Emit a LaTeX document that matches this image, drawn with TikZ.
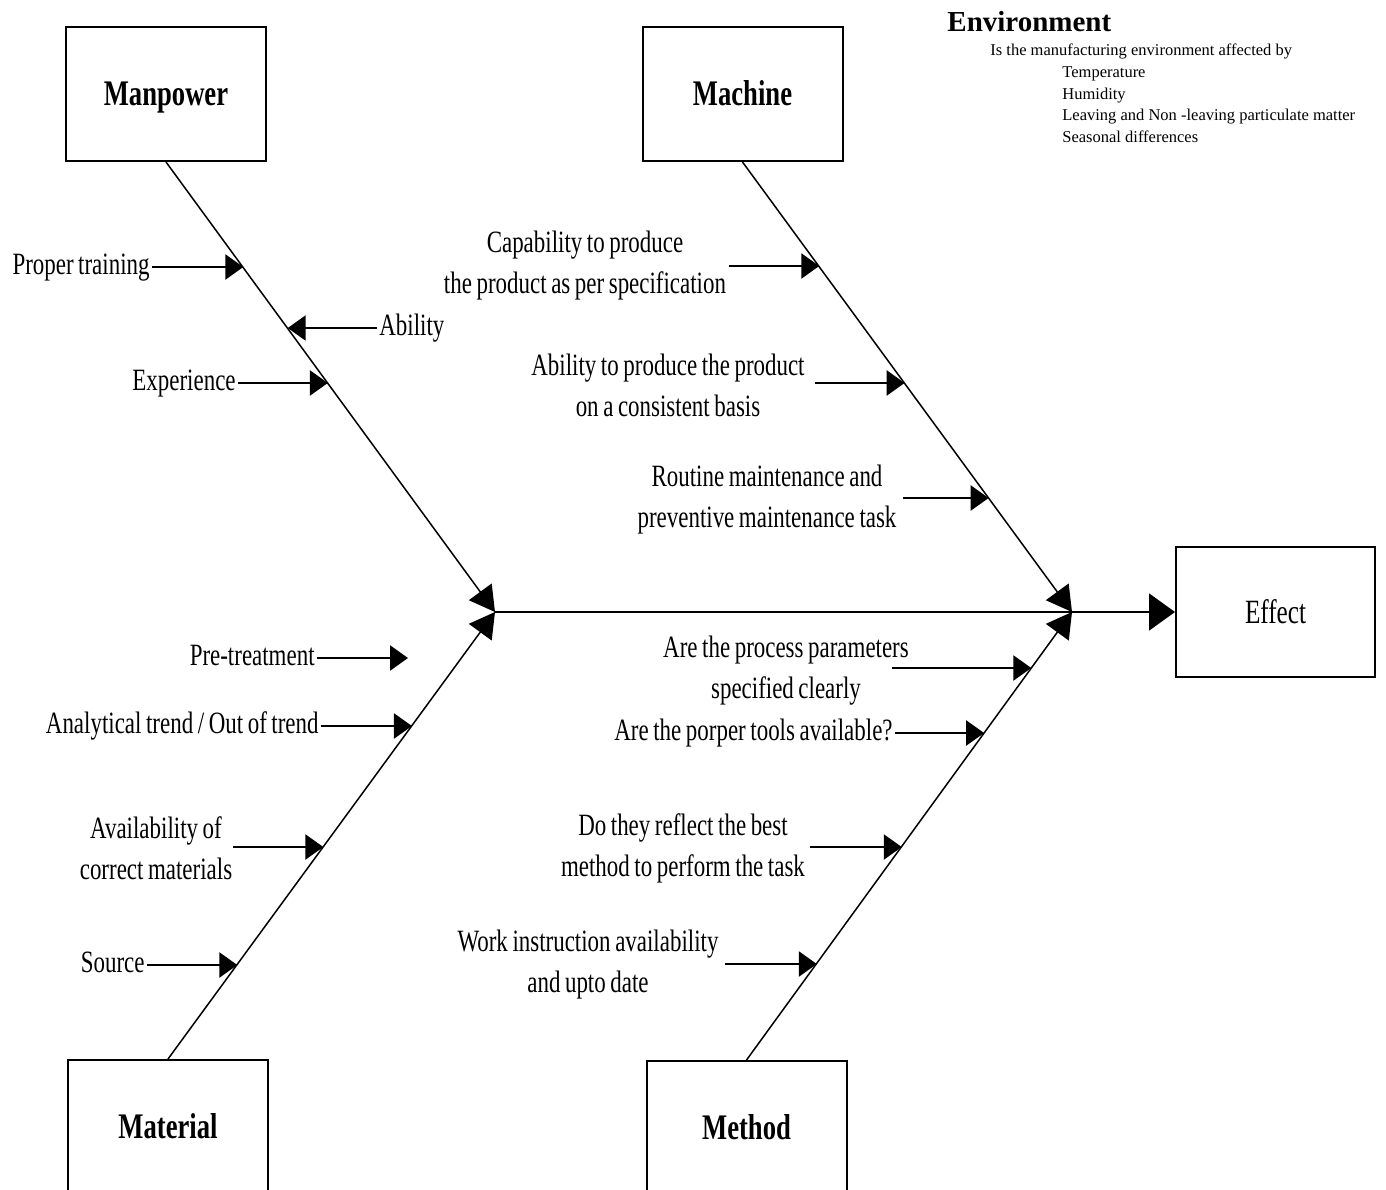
\documentclass[tikz,border=0pt]{standalone}
\usepackage{fontspec}
\setmainfont{Liberation Serif}
\newfontfamily\condfont[FakeStretch=0.74, WordSpace=0.8]{Liberation Serif}
\usetikzlibrary{arrows.meta,positioning}

\tikzset{
  catbox/.style={draw, line width=1pt, minimum width=100pt, minimum height=67pt, inner sep=0pt,
    text height=11.5pt, text depth=0pt, font=\condfont\fontsize{18}{22}\selectfont\bfseries},
  effbox/.style={draw, line width=1pt, minimum width=99.5pt, minimum height=65pt, inner sep=0pt,
    text height=11pt, text depth=0pt, font=\condfont\fontsize{17}{20}\selectfont},
  lbl/.style={inner sep=1pt, align=center, font=\condfont\fontsize{15.5}{20.5}\selectfont},
  oneline/.style={lbl, text height=10.5pt, text depth=3.1pt},
  envhead/.style={inner sep=0pt, font=\fontsize{14.5}{17}\selectfont\bfseries},
  envtxt/.style={inner sep=0pt, text height=5.6pt, text depth=1.7pt, font=\fontsize{8.25}{10}\selectfont},
  bone/.style={-{Triangle[length=12.5pt,width=14pt]}, line width=0.75pt},
  spine/.style={-{Triangle[length=13pt,width=18.5pt]}, line width=1pt},
  cause/.style={-{Triangle[length=9pt,width=12.5pt]}, line width=1.25pt}
}

\begin{document}
\begin{tikzpicture}[x=0.5pt, y=-0.5pt]
\useasboundingbox (0,0) rectangle (1386,1189);
\clip (0,0) rectangle (1386,1189);

% category boxes and effect
\node[catbox] (man) at (166,94) {Manpower};
\node[catbox] (mach) at (742.5,94) {Machine};
\node[catbox] (mat) at (168,1127) {Material};
\node[catbox] (meth) at (746.5,1128) {Method};
\node[effbox] (eff) at (1275.5,612) {Effect};

% spine and bones
\coordinate (J1) at (495,612);
\coordinate (J2) at (1072,612);
\draw[spine] (J1) -- (eff.west);
\draw[bone] (man.south) -- (J1);
\draw[bone] (mat.north) -- (J1);
\draw[bone] (mach.south) -- (J2);
\draw[bone] (meth.north) -- (J2);

% points on the bones
\path (man.south) -- (J1) coordinate[pos=.235] (mp1) coordinate[pos=.37] (mp2) coordinate[pos=.492] (mp3);
\path (mach.south) -- (J2) coordinate[pos=.233] (mc1) coordinate[pos=.492] (mc2) coordinate[pos=.747] (mc3);
\path (mat.north) -- (J1) coordinate[pos=.746] (ma2) coordinate[pos=.475] (ma3) coordinate[pos=.212] (ma4);
\path (meth.north) -- (J2) coordinate[pos=.875] (me1) coordinate[pos=.73] (me2) coordinate[pos=.477] (me3) coordinate[pos=.216] (me4);

% manpower
\node[oneline, anchor=east] (train) at (152,267) {Proper training};
\node[oneline, anchor=west] (abil) at (377,328) {Ability};
\node[oneline, anchor=east] (exper) at (238,383) {Experience};
\draw[cause] (train.east) -- (train.east -| mp1);
\draw[cause] (abil.west) -- (abil.west -| mp2);
\draw[cause] (exper.east) -- (exper.east -| mp3);

% machine
\node[lbl] (capab) at (585,266) {Capability to produce\\the product as per specification};
\node[lbl] (consis) at (668,385) {Ability to produce the product\\on a consistent basis};
\node[lbl] (maint) at (767,500) {Routine maintenance and\\preventive maintenance task};
\coordinate (tc1) at (729,266);
\coordinate (tc2) at (815,383);
\coordinate (tc3) at (903,498);
\draw[cause] (tc1) -- (tc1 -| mc1);
\draw[cause] (tc2) -- (tc2 -| mc2);
\draw[cause] (tc3) -- (tc3 -| mc3);

% material
\node[oneline, anchor=east] (pretr) at (317,658) {Pre-treatment};
\node[oneline, anchor=east] (trend) at (321,726) {Analytical trend / Out of trend};
\node[lbl] (avail) at (156,848) {Availability of\\correct materials};
\node[oneline, anchor=east] (source) at (147,965) {Source};
\coordinate (ma1) at (408,658);
\coordinate (ta3) at (233,847);
\draw[cause] (pretr.east) -- (ma1);
\draw[cause] (trend.east) -- (trend.east -| ma2);
\draw[cause] (ta3) -- (ta3 -| ma3);
\draw[cause] (source.east) -- (source.east -| ma4);

% method
\node[lbl] (param) at (786,671) {Are the process parameters\\specified clearly};
\node[oneline, anchor=east] (tools) at (895,733) {Are the porper tools available?};
\node[lbl] (best) at (683,848) {Do they reflect the best\\method to perform the task};
\node[lbl] (instr) at (588,965) {Work instruction availability\\and upto date};
\coordinate (te1) at (892,668);
\coordinate (te3) at (810,847);
\coordinate (te4) at (725,964);
\draw[cause] (te1) -- (te1 -| me1);
\draw[cause] (tools.east) -- (tools.east -| me2);
\draw[cause] (te3) -- (te3 -| me3);
\draw[cause] (te4) -- (te4 -| me4);

% environment
\node[envhead, anchor=west] (env) at (947,22) {Environment};
\node[envtxt, anchor=west] (envq) at (990,52) {Is the manufacturing environment affected by};
\node[envtxt, anchor=west] (env1) at (1062,74) {Temperature};
\node[envtxt, anchor=west] (env2) at (1062,96) {Humidity};
\node[envtxt, anchor=west] (env3) at (1062,117) {Leaving and Non -leaving particulate matter};
\node[envtxt, anchor=west] (env4) at (1062,139) {Seasonal differences};
\end{tikzpicture}
\end{document}
